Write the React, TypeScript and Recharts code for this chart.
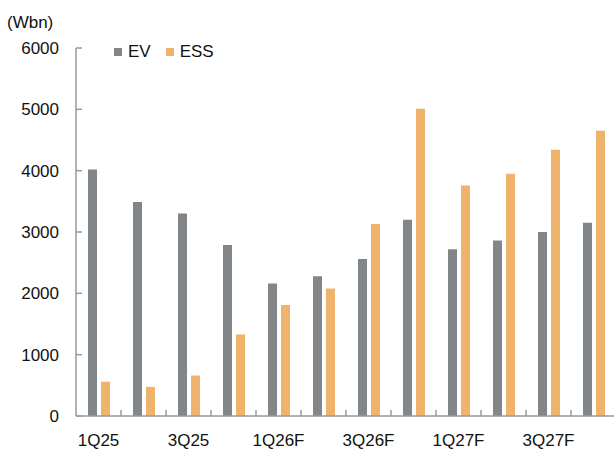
import { BarChart, Bar, XAxis, YAxis } from "recharts";

const QUARTERS = [
  "1Q25", "2Q25", "3Q25", "4Q25",
  "1Q26F", "2Q26F", "3Q26F", "4Q26F",
  "1Q27F", "2Q27F", "3Q27F", "4Q27F",
];
const EV = [4020, 3490, 3300, 2790, 2160, 2280, 2560, 3200, 2720, 2860, 3000, 3150];
const ESS = [560, 475, 660, 1330, 1810, 2080, 3130, 5010, 3760, 3950, 4340, 4650];
const Y_TICKS = [0, 1000, 2000, 3000, 4000, 5000, 6000];

const data = QUARTERS.map((q, i) => ({ q, EV: EV[i], ESS: ESS[i] }));

const FONT = "'Liberation Sans', Arial, sans-serif";
const AXIS = "#9a9a9a";
const TEXT = "#111";
const GRAY = "#838689";
const ORANGE = "#f0b36b";

function YTick(props: any) {
  const { x, y, payload } = props;
  const axisX = x + 17;
  return (
    <g>
      <line x1={axisX} y1={y} x2={axisX + 6} y2={y} stroke={AXIS} strokeWidth={1.5} />
      <text x={x} y={y} dy="0.36em" textAnchor="end" fontSize={17} fill={TEXT} fontFamily={FONT}>
        {payload.value}
      </text>
    </g>
  );
}

function XTick(props: any) {
  const { x, y, payload } = props;
  const half = payload.offset || 22.5;
  const edge = x - half;
  return (
    <g>
      {payload.index > 0 && (
        <line x1={edge} y1={y} x2={edge} y2={y - 6} stroke={AXIS} strokeWidth={1.5} />
      )}
      {payload.index % 2 === 0 && (
        <text x={x} y={y + 30} textAnchor="middle" fontSize={17} fill={TEXT} fontFamily={FONT}>
          {payload.value}
        </text>
      )}
    </g>
  );
}

function LegendBox() {
  const items = [
    { name: "EV", color: GRAY },
    { name: "ESS", color: ORANGE },
  ];
  return (
    <div style={{ display: "flex", gap: 15, fontFamily: FONT, fontSize: 17, color: TEXT, lineHeight: "20px" }}>
      {items.map((it) => (
        <div key={it.name} style={{ display: "flex", alignItems: "center", gap: 6 }}>
          <span style={{ width: 8, height: 8, background: it.color, display: "inline-block" }} />
          <span>{it.name}</span>
        </div>
      ))}
    </div>
  );
}

export default function App() {
  return (
    <div style={{ position: "absolute", left: 0, top: 0, width: 614, height: 450, overflow: "hidden", background: "#fff" }}>
      <BarChart
        width={620}
        height={450}
        data={data}
        margin={{ top: 48, right: 4, bottom: 0, left: 0 }}
        barSize={9}
        barGap={4}
      >
        <XAxis
          dataKey="q"
          interval={0}
          height={34}
          tickLine={false}
          tickSize={0}
          tickMargin={0}
          axisLine={{ stroke: AXIS, strokeWidth: 1.5 }}
          tick={<XTick />}
        />
        <YAxis
          width={76}
          domain={[0, 6000]}
          ticks={Y_TICKS}
          tickLine={false}
          tickSize={6}
          tickMargin={11}
          axisLine={{ stroke: AXIS, strokeWidth: 1.5 }}
          tick={<YTick />}
        />
        <Bar dataKey="EV" fill={GRAY} isAnimationActive={false} />
        <Bar dataKey="ESS" fill={ORANGE} isAnimationActive={false} />
      </BarChart>
      <div style={{ position: "absolute", left: 7, top: 13, fontFamily: FONT, fontSize: 17, color: TEXT }}>
        (Wbn)
      </div>
      <div style={{ position: "absolute", left: 114, top: 42 }}>
        <LegendBox />
      </div>
    </div>
  );
}
